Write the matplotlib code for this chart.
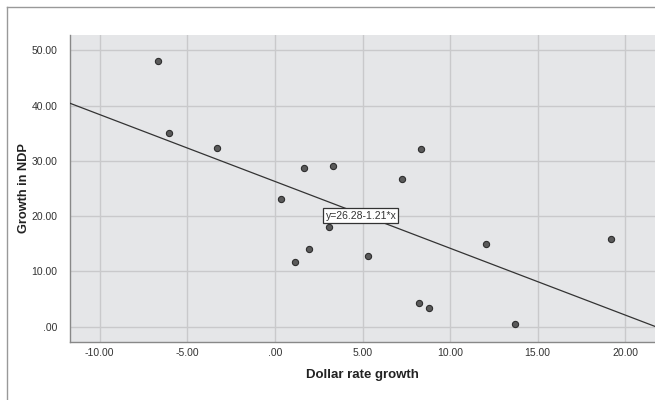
import numpy as np
import matplotlib
matplotlib.use("Agg")
import matplotlib.pyplot as plt
from matplotlib.lines import Line2D

plt.rcParams['font.family'] = ['Liberation Sans', 'DejaVu Sans']

# data
dollar_growth = [-6.67, -6.04, -3.33, 1.66, 3.31, 0.33, 8.34, 7.24, 3.10,
                 1.92, 1.14, 5.30, 12.04, 19.18, 8.25, 8.80, 13.70]
ndp_growth = [48.1, 35.0, 32.4, 28.8, 29.1, 23.1, 32.2, 26.7, 18.0,
              14.1, 11.6, 12.8, 14.9, 15.9, 4.2, 3.4, 0.5]
intercept = 26.28
slope = -1.21
fit_label = "y=26.28-1.21*x"
x_ticks = [-10, -5, 0, 5, 10, 15, 20]
y_ticks = [0, 10, 20, 30, 40, 50]


def fmt(v):
    s = "%.2f" % v
    if s.startswith("0."):
        s = s[1:]
    return s


fig = plt.figure(figsize=(6.55, 4.0), dpi=100)
ax = fig.add_axes([70 / 655, 1 - 342 / 400, 585 / 655, 307 / 400])

# outer chart frame (only left and top visible in the crop)
fig.add_artist(Line2D([7 / 655, 7 / 655], [0, 1 - 7 / 400], color='#999999', lw=1.0))
fig.add_artist(Line2D([7 / 655, 1], [1 - 7 / 400, 1 - 7 / 400], color='#999999', lw=1.0))

ax.set_facecolor('#e5e6e8')
ax.set_xlim(-11.7, 21.7)
ax.set_ylim(-2.8, 52.8)
ax.set_xticks(x_ticks)
ax.set_yticks(y_ticks)
ax.set_xticklabels([fmt(v) for v in x_ticks])
ax.set_yticklabels([fmt(v) for v in y_ticks])
ax.grid(True, color='#c9c9cb', lw=1.0)
ax.set_axisbelow(True)
ax.tick_params(length=0, labelsize=7.5, labelcolor='#333333')
ax.tick_params(axis='x', pad=4.5)
ax.tick_params(axis='y', pad=9)

for side in ['top', 'right']:
    ax.spines[side].set_visible(False)
for side in ['left', 'bottom']:
    ax.spines[side].set_color('#888888')
    ax.spines[side].set_linewidth(1.0)

# fit line
xs = np.array(ax.get_xlim())
ax.plot(xs, intercept + slope * xs, color='#333333', lw=0.9, zorder=3)

ax.scatter(dollar_growth, ndp_growth, s=20, color='#5a5a5a',
           edgecolors='#2e2e2e', linewidths=0.8, zorder=4)

ax.text(4.91, 20.1, fit_label, fontsize=7.5, color='#333333', ha='center', va='center',
        zorder=5, bbox=dict(boxstyle='square,pad=0.2', fc='white', ec='#333333', lw=0.9))

ax.set_xlabel('Dollar rate growth', fontsize=9.5, fontweight='bold', color='#222222', labelpad=8)
ax.set_ylabel('Growth in NDP', fontsize=9.2, fontweight='bold', color='#222222', labelpad=1)

fig.savefig('out.png', dpi=100)
